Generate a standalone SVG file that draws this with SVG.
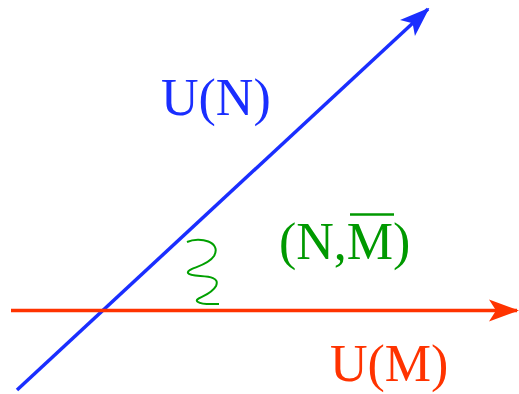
<svg xmlns="http://www.w3.org/2000/svg" width="519" height="394" viewBox="0 0 519 394">
<style>
.lbl{font-family:"Liberation Serif","Times New Roman",serif;font-size:52px}
</style>
<defs>
<marker id="ab" viewBox="0 0 30 24" refX="28" refY="12" markerWidth="30" markerHeight="24" markerUnits="userSpaceOnUse" orient="auto">
<path d="M0,1 L30,12 L0,23 L7,12 Z" fill="#1a2eff"/>
</marker>
<marker id="ar" viewBox="0 0 30 24" refX="28" refY="12" markerWidth="30" markerHeight="24" markerUnits="userSpaceOnUse" orient="auto">
<path d="M0,1 L30,12 L0,23 L7,12 Z" fill="#ff3300"/>
</marker>
</defs>
<rect width="519" height="394" fill="#fff"/>
<g id="connectors">
<line x1="17" y1="390" x2="428" y2="9" stroke="#1a2eff" stroke-width="3.5" marker-end="url(#ab)"/>
<line x1="11" y1="310.5" x2="517" y2="310.5" stroke="#ff3300" stroke-width="3.5" marker-end="url(#ar)"/>
<path d="M187,242 C200,236 222,242 214,256 C207,267 186,268 188,273 C191,279 222,272 216,286 C210,297 192,298 198,302 C202,305 212,304 219,304" fill="none" stroke="#00a000" stroke-width="2"/>
</g>
<g id="UN">
<text class="lbl" x="161" y="115" fill="#1a2eff">U(N)</text>
</g>
<g id="NM">
<text class="lbl" x="279" y="259" fill="#009900">(N,M)</text>
<line x1="350" y1="214.5" x2="394" y2="214.5" stroke="#009900" stroke-width="2.5"/>
</g>
<g id="UM">
<text class="lbl" x="330" y="381" fill="#ff3300">U(M)</text>
</g>
</svg>
